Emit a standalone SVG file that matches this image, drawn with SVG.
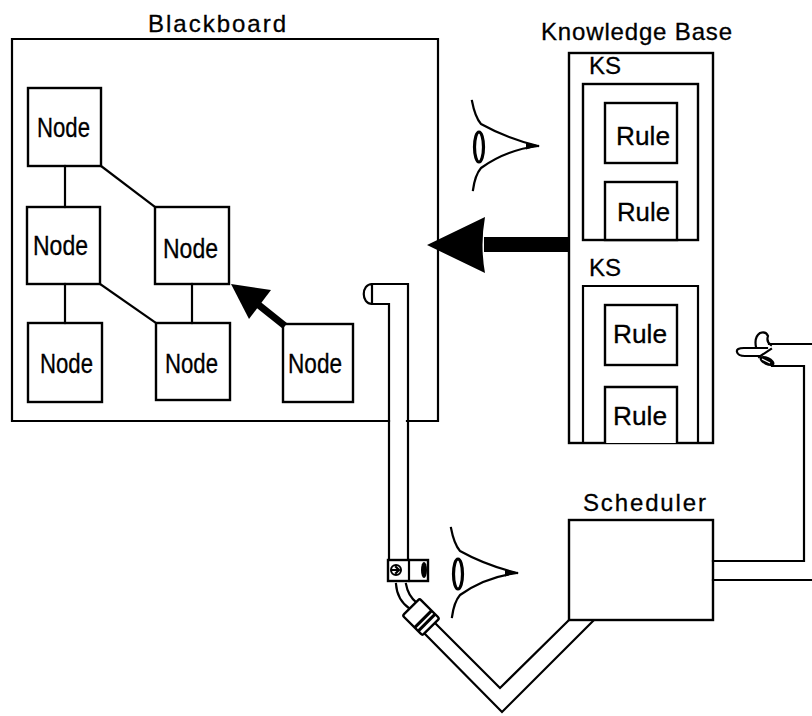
<svg xmlns="http://www.w3.org/2000/svg" width="812" height="716" viewBox="0 0 812 716">
  <style>
    .ln { fill: none; stroke: #000; stroke-width: 2.2; stroke-linejoin: miter; stroke-linecap: square; }
    .box { fill: #fff; stroke: #000; stroke-width: 2.4; }
    .lbl { font-family: "Liberation Sans", Arial, Helvetica, sans-serif; font-size: 24px; fill: #000; stroke: #000; stroke-width: 0.3; }
    .nd { font-family: "Liberation Sans", Arial, Helvetica, sans-serif; font-size: 27px; fill: #000; stroke: #000; stroke-width: 0.3; }
    .rl { font-family: "Liberation Sans", Arial, Helvetica, sans-serif; font-size: 26px; fill: #000; stroke: #000; stroke-width: 0.3; }
    .solid { fill: #000; stroke: none; }
  </style>
  <defs>
    <!-- eye glyph: top of lid at (0,0) -->
    <g id="eye">
      <path class="ln" d="M0,1 Q3,17 9,24 Q34,38 66,46" stroke-width="2.6"/>
      <path class="ln" d="M66,46 Q34,50 9,68 Q3,75 1,90" stroke-width="2.6"/>
      <path class="solid" d="M54,42.5 L67,45.5 L54,49.5 Z"/>
      <ellipse cx="7" cy="47" rx="4.5" ry="15" fill="#fff" stroke="#000" stroke-width="3.2"/>
    </g>
  </defs>

  <!-- Blackboard frame, opened at the bottom where the periscope passes -->
  <g id="blackboard">
    <text class="lbl" x="148" y="32" textLength="138" lengthAdjust="spacing">Blackboard</text>
    <path class="ln" d="M389,421 H12 V39 H438 V421 H407"/>
  </g>

  <g id="node1"><rect class="box" x="28" y="88" width="73" height="78"/><text class="nd" x="37" y="137" textLength="53" lengthAdjust="spacingAndGlyphs">Node</text></g>
  <g id="node2"><rect class="box" x="27" y="207" width="73" height="77"/><text class="nd" x="33" y="255" textLength="55" lengthAdjust="spacingAndGlyphs">Node</text></g>
  <g id="node3"><rect class="box" x="155" y="207" width="74" height="77"/><text class="nd" x="163" y="258" textLength="55" lengthAdjust="spacingAndGlyphs">Node</text></g>
  <g id="node4"><rect class="box" x="28" y="323" width="74" height="79"/><text class="nd" x="40" y="373" textLength="53" lengthAdjust="spacingAndGlyphs">Node</text></g>
  <g id="node5"><rect class="box" x="156" y="323" width="74" height="77"/><text class="nd" x="165" y="373" textLength="53" lengthAdjust="spacingAndGlyphs">Node</text></g>
  <g id="node6"><rect class="box" x="283" y="324" width="70" height="78"/><text class="nd" x="288" y="373" textLength="54" lengthAdjust="spacingAndGlyphs">Node</text></g>

  <!-- Knowledge base with two knowledge sources -->
  <g id="knowledge-base">
    <text class="lbl" x="541" y="40" textLength="191" lengthAdjust="spacing">Knowledge Base</text>
    <rect class="box" x="569" y="53" width="144" height="390"/>
  </g>
  <g id="ks1">
    <text class="lbl" x="589" y="74" textLength="32" lengthAdjust="spacingAndGlyphs">KS</text>
    <rect class="box" x="583" y="84" width="115" height="156"/>
  </g>
  <g id="rule1"><rect class="box" x="605" y="103" width="72" height="60"/><text class="rl" x="616" y="145" textLength="54" lengthAdjust="spacingAndGlyphs">Rule</text></g>
  <g id="rule2"><rect class="box" x="605" y="182" width="72" height="58"/><text class="rl" x="617" y="221" textLength="53" lengthAdjust="spacingAndGlyphs">Rule</text></g>
  <g id="ks2">
    <text class="lbl" x="589" y="276" textLength="32" lengthAdjust="spacingAndGlyphs">KS</text>
    <path class="ln" d="M583,443 V286 H698 V443"/>
  </g>
  <g id="rule3"><rect class="box" x="605" y="305" width="72" height="60"/><text class="rl" x="613" y="343" textLength="54" lengthAdjust="spacingAndGlyphs">Rule</text></g>
  <g id="rule4"><path class="box" d="M605,443 V387 H677 V443"/><text class="rl" x="613" y="425" textLength="54" lengthAdjust="spacingAndGlyphs">Rule</text></g>

  <!-- Scheduler -->
  <g id="scheduler">
    <text class="lbl" x="583" y="511" textLength="123" lengthAdjust="spacing">Scheduler</text>
    <rect class="box" x="569" y="520" width="144" height="100"/>
  </g>

  <!-- Eyes watching the knowledge base and the periscope -->
  <g id="eye-kb"><use href="#eye" x="472" y="100"/></g>
  <g id="eye-scope"><use href="#eye" x="451" y="527"/></g>

  <!-- Periscope from the blackboard down to the scheduler -->
  <g id="periscope">
    <path class="ln" d="M372,284 H408 V560"/>
    <path class="ln" d="M372,304 H389 V560"/>
    <path class="ln" d="M372,284 C361,284 361,304 372,304 Z"/>
    <rect class="box" x="388" y="560" width="40" height="21"/>
    <line class="ln" x1="409" y1="560" x2="409" y2="581"/>
    <circle cx="396" cy="570" r="5" fill="none" stroke="#000" stroke-width="2"/>
    <path class="ln" d="M392,570 H398 M396,567 L399,570 L396,573"/>
    <ellipse cx="424" cy="570" rx="3" ry="8" class="solid"/>
    <path class="ln" d="M396,584 Q397,600 410,609"/>
    <path class="ln" d="M406,584 Q408,596 417,603"/>
    <g transform="translate(421,617) rotate(45)">
      <rect x="-14" y="-12" width="28" height="24" rx="2" class="box"/>
      <line x1="3" y1="-12" x2="3" y2="12" stroke="#000" stroke-width="3"/>
      <line x1="8" y1="-12" x2="8" y2="12" stroke="#000" stroke-width="3"/>
    </g>
    <path class="ln" d="M425,634 L502,712 L593,621"/>
    <path class="ln" d="M436,624 L500,688 L569,620"/>
  </g>

  <!-- Connectors -->
  <g id="connectors">
    <line class="ln" x1="65" y1="166" x2="65" y2="207"/>
    <line class="ln" x1="101" y1="166" x2="155" y2="207"/>
    <line class="ln" x1="65" y1="284" x2="65" y2="323"/>
    <line class="ln" x1="100" y1="284" x2="156" y2="323"/>
    <line class="ln" x1="192" y1="284" x2="192" y2="323"/>
    <!-- node6 to node3 -->
    <line x1="285" y1="326" x2="255" y2="302" stroke="#000" stroke-width="7"/>
    <path class="solid" d="M231,284 L271,290 L249,319 Z"/>
    <!-- knowledge base to blackboard -->
    <rect class="solid" x="484" y="237" width="86" height="15"/>
    <path class="solid" d="M427,245 L485,217 Q480,245 485,273 Z"/>
    <!-- scheduler out to the pointing hand -->
    <path class="ln" d="M713,561 H804 V366 H772"/>
    <path class="ln" d="M713,580 H812"/>
  </g>

  <!-- Pointing hand -->
  <g id="hand">
    <path class="ln" d="M769,344 H812"/>
    <path class="ln" d="M767,348 H744 Q736,348 737,352 Q738,356 745,356 H760"/>
    <path class="ln" d="M756,347 Q754,337 760,333 Q766,331 768,336 Q766,342 771,345"/>
    <path class="ln" d="M759,357 L771,349"/>
    <ellipse cx="767" cy="361" rx="8" ry="4" transform="rotate(25 767 361)" class="solid"/>
    <path d="M762,359 L770,363" stroke="#fff" stroke-width="1.2"/>
  </g>
</svg>
